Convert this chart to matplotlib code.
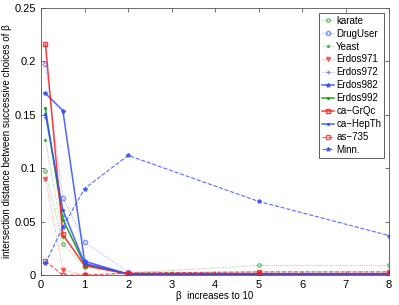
import numpy as np
import matplotlib
matplotlib.use('Agg')
import matplotlib.pyplot as plt

''' ---------- data ---------- '''
beta = [0.1, 0.5, 1, 2, 5, 8]

karate    = [0.097, 0.029, 0.008, 0.002, 0.009, 0.009]
druguser  = [0.198, 0.072, 0.031, 0.003, 0.002, 0.002]
yeast     = [0.126, 0.036, 0.008, 0.002, 0.003, 0.003]
erdos971  = [0.090, 0.005, 0.000, 0.000, 0.000, 0.000]
erdos972  = [0.148, 0.055, 0.010, 0.001, 0.001, 0.001]
erdos982  = [0.170, 0.154, 0.013, 0.001, 0.001, 0.001]
erdos992  = [0.156, 0.052, 0.010, 0.001, 0.001, 0.001]
ca_grqc   = [0.216, 0.038, 0.009, 0.001, 0.001, 0.001]
ca_hepth  = [0.151, 0.061, 0.011, 0.001, 0.001, 0.001]
as735     = [0.013, 0.000, 0.000, 0.002, 0.003, 0.003]
minn      = [0.011, 0.045, 0.081, 0.112, 0.069, 0.037]

names = ['karate', 'DrugUser', 'Yeast', 'Erdos971', 'Erdos972', 'Erdos982',
         'Erdos992', 'ca\u2212GrQc', 'ca\u2212HepTh', 'as\u2212735', 'Minn.']

''' ---------- styles ---------- '''
B, R, G = '#2f4bff', '#ff1a1a', '#159a15'
styles = [
    dict(color=G, ls=':', marker='o', mfc='none', ms=2.5, lw=0.6, alpha=0.6),
    dict(color=B, ls=':', marker='o', mfc='none', ms=3, lw=0.6, alpha=0.6),
    dict(color=G, ls=':', marker='.', ms=3, lw=0.6, alpha=0.6),
    dict(color=R, ls=':', marker='v', ms=3, lw=0.6, alpha=0.6),
    dict(color=B, ls=':', marker='+', ms=3, lw=0.6, alpha=0.6),
    dict(color=B, ls='-', marker='*', ms=3, lw=1.1, alpha=0.85),
    dict(color=G, ls='-', marker='.', ms=2.5, lw=1.1, alpha=0.9),
    dict(color=R, ls='-', marker='s', mfc='none', ms=2.5, lw=1.1, alpha=0.85),
    dict(color=B, ls='-', marker='.', ms=2.5, lw=1.1, alpha=0.85),
    dict(color=R, ls='--', marker='s', mfc='none', ms=2.5, lw=0.8, alpha=0.75),
    dict(color=B, ls='--', marker='*', ms=3, lw=0.8, alpha=0.8),
]
series = [karate, druguser, yeast, erdos971, erdos972, erdos982,
          erdos992, ca_grqc, ca_hepth, as735, minn]

plt.rcParams['font.family'] = ['Liberation Sans', 'DejaVu Sans']
plt.rcParams['font.size'] = 7

fig = plt.figure(figsize=(3.99, 3.05), dpi=100)
ax = fig.add_axes([0.103, 0.098, 0.872, 0.876])

for y, nm, st in zip(series, names, styles):
    ax.plot(beta, y, label=nm, **st)

ax.set_xlim(0, 8)
ax.set_ylim(0, 0.25)
ax.set_xticks(range(9))
ax.set_yticks([0, 0.05, 0.1, 0.15, 0.2, 0.25])
ax.set_yticklabels(['0', '0.05', '0.1', '0.15', '0.2', '0.25'])
ax.tick_params(direction='in', length=3, width=0.5, top=True, right=True,
               colors='#333333', labelcolor='black', labelsize=8)
for s in ax.spines.values():
    s.set_linewidth(0.6)
    s.set_color('#555555')

ax.set_xlabel('\u03b2  increases to 10', fontsize=7, labelpad=1)
ax.set_ylabel('intersection distance between successive choices of \u03b2',
              fontsize=7, labelpad=2)

leg = ax.legend(loc='upper right', fontsize=7, handlelength=1.3,
                handletextpad=0.2, labelspacing=0.3, borderpad=0.3,
                fancybox=False, framealpha=1, edgecolor='#444444',
                borderaxespad=0.5)
leg.get_frame().set_linewidth(0.6)

fig.savefig('out.png', dpi=100)
